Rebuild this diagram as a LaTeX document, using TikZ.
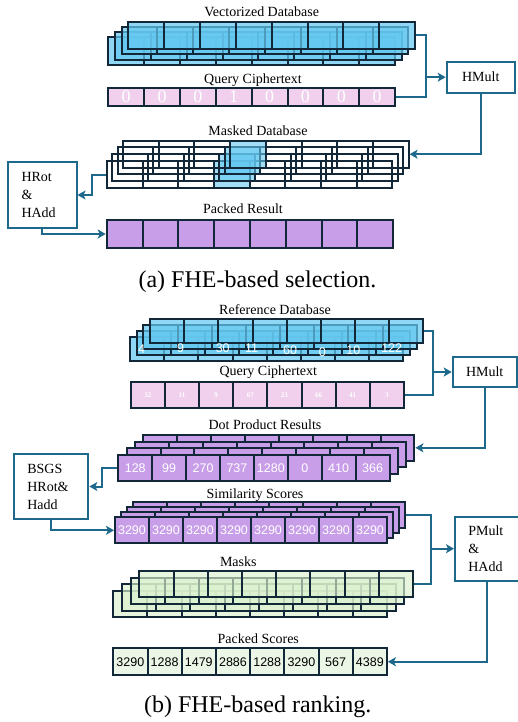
\documentclass[tikz,border=0pt]{standalone}
\usepackage{fontspec}
\setmainfont{Liberation Serif}
\newfontfamily\numfont{Liberation Sans}
\usetikzlibrary{arrows.meta}
\definecolor{outline}{RGB}{18,40,56}
\definecolor{wireblue}{RGB}{30,104,140}
\definecolor{dbblue}{RGB}{100,200,240}
\definecolor{qpink}{RGB}{240,208,236}
\definecolor{dppurple}{RGB}{200,158,232}
\definecolor{mskgreen}{RGB}{218,240,205}
\definecolor{pscgreen}{RGB}{236,246,230}

\begin{document}
\begin{tikzpicture}[x=1pt, y=-1pt,
		>={Stealth[length=8pt,width=9pt,inset=2pt]},
		cell/.style={rectangle,draw=outline,line width=2pt,inner sep=0pt},
		wire/.style={draw=wireblue,line width=2pt},
		procnode/.style={rectangle,draw=wireblue,line width=2pt,fill=white,inner sep=0pt,font=\fontsize{14}{18}\selectfont},
		titlenode/.style={inner sep=0pt,font=\fontsize{14}{16}\selectfont},
		capnode/.style={inner sep=0pt,font=\fontsize{24}{27}\selectfont},
		numnode/.style={font=\numfont\fontsize{12.5}{14}\selectfont}]
		\useasboundingbox (0,0) rectangle (517,722);

		\node[titlenode] (tvdb) at (261.7,11.7) {Vectorized Database};
		\foreach \l in {3,2,1,0}
			\foreach \i in {1,...,8}
				\node[cell,fill=dbblue,fill opacity=.72,minimum width=35.85pt,minimum height=27.6pt] (vdb\l-\i) at ({128.3-6.67*\l+(\i-.5)*35.85},{35.5+5.2*\l}) {};

		\node[titlenode] (tqa) at (253,80) {Query Ciphertext};
		\foreach \v [count=\i] in {0,0,0,1,0,0,0,0}
			\node[cell,fill=qpink,minimum width=35.84pt,minimum height=18.5pt,text=white,font=\fontsize{18}{18}\selectfont] (qa-\i) at ({108.3+(\i-.5)*35.84},96.9) {\v};

		\node[procnode,minimum width=68.3pt,minimum height=31pt] (hm1) at (480.8,77.2) {HMult};

		\node[titlenode] (tmdb) at (258,131) {Masked Database};
		\foreach \l in {3,2,1,0}
			\foreach \i in {1,...,8} {
				\pgfmathsetmacro\op{\i==4 ? 0.6 : 0}
				\node[cell,fill=dbblue,fill opacity=\op,minimum width=35.7pt,minimum height=27pt] (mdb\l-\i) at ({123-5.4*\l+(\i-.5)*35.7},{154.2+6.8*\l}) {};
			}

		\node[procnode,text width=41pt,inner xsep=14pt,minimum height=66.6pt,align=left] (hrot) at (42,195) {HRot\\\&\\HAdd};

		\node[titlenode] (tpr) at (243,209) {Packed Result};
		\foreach \i in {1,...,8}
			\node[cell,fill=dppurple,minimum width=35.8pt,minimum height=28pt] (pr-\i) at ({106.7+(\i-.5)*35.8},234) {};

		\coordinate (ja) at (426,77.2);
		\draw[wire] (vdb0-8.east) -| (ja) |- (qa-8.east);
		\draw[wire,->] (ja) -- (hm1.west);
		\draw[wire,->] (hm1.south) |- (mdb0-8.east);
		\draw[wire,->] (mdb3-1.west) -- ++(-14,0) |- (hrot.east);
		\draw[wire,->] (hrot.south) |- (pr-1.west);

		\node[capnode] (capa) at (257.5,282) {(a) FHE-based selection.};

		\node[titlenode] (trdb) at (275,310) {Reference Database};
		\foreach \l in {3,2,1,0}
			\foreach \i in {1,...,8}
				\node[cell,fill=dbblue,fill opacity=.72,minimum width=34.17pt,minimum height=24pt] (rdb\l-\i) at ({150-6.67*\l+(\i-.5)*34.17},{331.3+5.8*\l}) {};
		\foreach \v/\x/\y [count=\i] in {4/141.7/349.3,9/180.7/348.3,30/222.7/348,11/251.7/348,60/290/350,0/322.3/352,10/353.3/350,122/391.7/348}
			\node[numnode,text=white,inner sep=0pt] (rdbv-\i) at (\x,\y) {\v};

		\node[titlenode] (tqb) at (268.3,371.7) {Query Ciphertext};
		\foreach \v [count=\i] in {32,11,9,67,23,66,41,3}
			\node[cell,fill=qpink,minimum width=34.16pt,minimum height=26.6pt,text=white,font=\bfseries\fontsize{7}{7}\selectfont] (qb-\i) at ({130.7+(\i-.5)*34.16},395) {\v};

		\node[procnode,minimum width=64pt,minimum height=30.6pt] (hm2) at (484.7,372) {HMult};

		\node[titlenode] (tdpr) at (265,425) {Dot Product Results};
		\foreach \l in {3,2,1}
			\foreach \i in {1,...,8}
				\node[cell,fill=dppurple,minimum width=33.9pt,minimum height=25.7pt] (dpr\l-\i) at ({118.3+8.3*\l+(\i-.5)*33.9},{467.9-6.7*\l}) {};
		\foreach \v [count=\i] in {128,99,270,737,1280,0,410,366}
			\node[cell,numnode,fill=dppurple,text=white,minimum width=33.9pt,minimum height=25.7pt] (dpr0-\i) at ({118.3+(\i-.5)*33.9},467.9) {\v};

		\node[procnode,text width=47.7pt,inner xsep=13.3pt,minimum height=65pt,align=left] (bsgs) at (51.2,486.5) {BSGS\\HRot\&\\Hadd};

		\node[titlenode] (tsim) at (255,495) {Similarity Scores};
		\foreach \l in {3,2,1}
			\foreach \i in {1,...,8}
				\node[cell,fill=dppurple,minimum width=34pt,minimum height=26pt] (sim\l-\i) at ({115+6.1*\l+(\i-.5)*34},{530.3-5.2*\l}) {};
		\foreach \i in {1,...,8}
			\node[cell,numnode,fill=dppurple,text=white,minimum width=34pt,minimum height=26pt] (sim0-\i) at ({115+(\i-.5)*34},530.3) {3290};

		\node[procnode,text width=38pt,inner xsep=13.3pt,minimum height=64pt,align=left] (pm) at (487.3,548.7) {PMult\\\&\\HAdd};

		\node[titlenode] (tmsk) at (238.3,561.7) {Masks};
		\foreach \l in {3,2,1,0}
			\foreach \i in {1,...,8}
				\node[cell,fill=mskgreen,fill opacity=.65,minimum width=34.2pt,minimum height=26.3pt] (msk\l-\i) at ({139.3-8.7*\l+(\i-.5)*34.2},{584.2+6.7*\l}) {};

		\node[titlenode] (tpsc) at (258.3,639) {Packed Scores};
		\foreach \v [count=\i] in {3290,1288,1479,2886,1288,3290,567,4389}
			\node[cell,numnode,fill=pscgreen,minimum width=34.2pt,minimum height=26.7pt] (psc-\i) at ({113.3+(\i-.5)*34.2},661.7) {\v};

		\coordinate (jb) at (433.3,372);
		\draw[wire] (rdb0-8.east) -| (jb) |- (qb-8.east);
		\draw[wire,->] (jb) -- (hm2.west);
		\draw[wire,->] (hm2.south) |- (dpr3-8.east);
		\draw[wire,->] (dpr0-1.west) -- ++(-15,0) |- (bsgs.east);
		\draw[wire,->] (bsgs.south) |- (sim0-1.west);
		\coordinate (jc) at (430.7,548.7);
		\draw[wire] (sim3-8.east) -| (jc) |- (msk0-8.east);
		\draw[wire,->] (jc) -- (pm.west);
		\draw[wire,->] (pm.south) |- (psc-8.east);

		\node[capnode] (capb) at (257.7,707) {(b) FHE-based ranking.};
	\end{tikzpicture}
\end{document}
